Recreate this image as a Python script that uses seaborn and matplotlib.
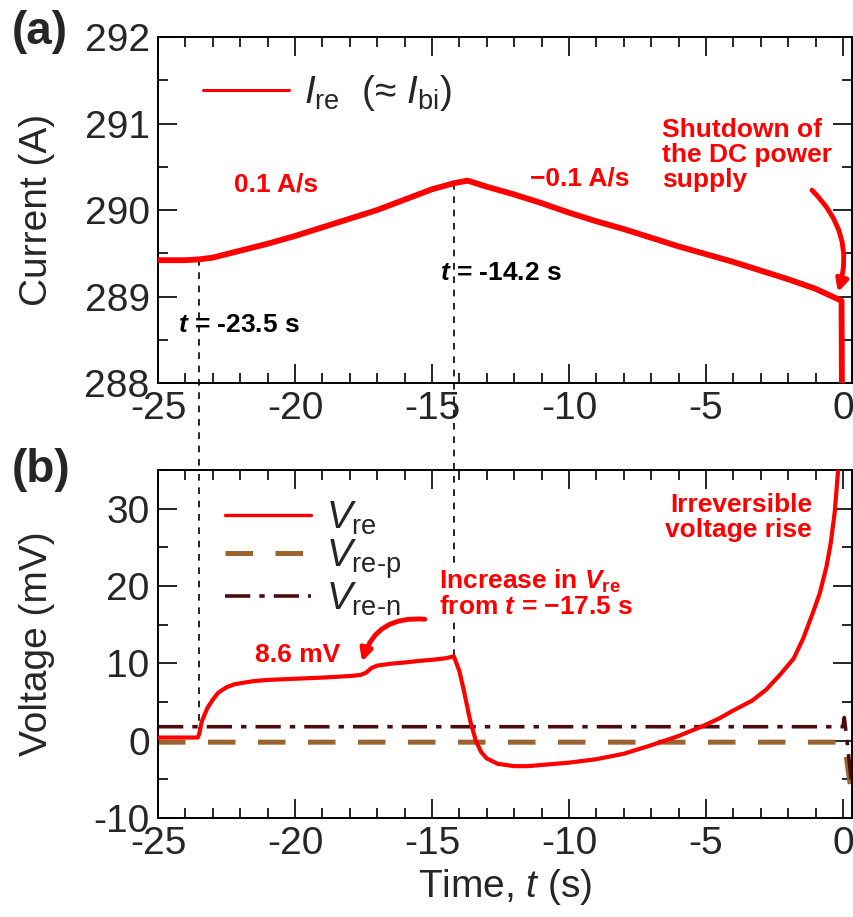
import matplotlib
matplotlib.use('Agg')
import matplotlib.pyplot as plt
import numpy as np
import pandas as pd
import seaborn as sns
from matplotlib.ticker import MultipleLocator

# (a) current
t_cur = [-25, -24.0, -23.5, -23.0, -22.5, -22, -21, -20, -19, -18, -17, -16, -15, -14.2, -13.7,
         -13, -12, -11, -10, -9, -8, -7, -6, -5, -4, -3, -2, -1, -0.25, -0.05, -0.03]
i_re = [289.42, 289.42, 289.43, 289.45, 289.49, 289.53, 289.61, 289.70, 289.80, 289.90, 290.00,
        290.12, 290.24, 290.31, 290.34, 290.27, 290.18, 290.08, 289.97, 289.87, 289.78,
        289.68, 289.58, 289.49, 289.40, 289.30, 289.20, 289.09, 288.98, 288.95, 287.5]

# (b) voltages
t_v = [-25, -23.55, -23.5, -23.4, -23.2, -23.0, -22.8, -22.5, -22.2, -21.5, -21, -20, -19,
       -18, -17.6, -17.4, -17.2, -17.0, -16.5, -16, -15.5, -15, -14.5, -14.2, -14.0, -13.85,
       -13.6, -13.4, -13.2, -13.0, -12.6, -12.0, -11.5, -11, -10, -9, -8, -7, -6, -5.1, -4.5,
       -4, -3.3, -2.8, -2.3, -1.8, -1.45, -1.1, -0.85, -0.6, -0.45, -0.3, -0.18, -0.1]
v_re = [0.4, 0.4, 0.8, 2.5, 4.2, 5.3, 6.2, 6.9, 7.3, 7.7, 7.85, 8.0, 8.15, 8.35, 8.5, 8.8,
        9.4, 9.7, 9.95, 10.1, 10.3, 10.45, 10.65, 10.9, 9.0, 6.7, 2.5, 0.0, -1.5, -2.3, -3.0,
        -3.3, -3.3, -3.15, -2.85, -2.4, -1.7, -0.6, 0.6, 1.9, 2.9, 3.9, 5.2, 6.6, 8.5, 10.6,
        13.2, 16.5, 19.0, 22.5, 25.4, 29.5, 34.8, 37.0]
t_p = [-25, 0.0, 0.1, 0.2, 0.3]
v_re_p = [-0.2, -0.2, -1.5, -4.0, -6.5]
t_n = [-25, 0.0, 0.05, 0.15, 0.3]
v_re_n = [1.8, 1.8, 3.0, 0.0, -5.0]

event_t = [-23.5, -14.2]

sns.set_style('ticks')
plt.rcParams['font.family'] = ['Liberation Sans', 'DejaVu Sans']
plt.rcParams['mathtext.fontset'] = 'custom'
plt.rcParams['mathtext.rm'] = 'Liberation Sans'
plt.rcParams['mathtext.it'] = 'Liberation Sans:italic'
plt.rcParams['mathtext.bf'] = 'Liberation Sans:bold'
plt.rcParams['mathtext.bfit'] = 'Liberation Sans:italic:bold'
plt.rcParams['axes.unicode_minus'] = False

RED = '#ff0000'
FS = 28
AFS = 19

fig = plt.figure(figsize=(8.54, 9.17), dpi=100)
ax1 = fig.add_axes([0.185, 0.5823, 0.8126, 0.3773])
ax2 = fig.add_axes([0.185, 0.108, 0.8126, 0.3795])

df_i = pd.DataFrame({'t': t_cur, 'I': i_re})
sns.lineplot(data=df_i, x='t', y='I', ax=ax1, color=RED, lw=4.2, sort=False,
             estimator=None, label=r'$I_{\rm re}$  (≈ $I_{\rm bi}$)', zorder=3)

df_v = pd.DataFrame({'t': t_v, 'V': v_re})
df_p = pd.DataFrame({'t': t_p, 'V': v_re_p})
df_n = pd.DataFrame({'t': t_n, 'V': v_re_n})
sns.lineplot(data=df_v, x='t', y='V', ax=ax2, color=RED, lw=3.0, sort=False,
             estimator=None, label=r'$V_{\rm re}$', zorder=3)
sns.lineplot(data=df_p, x='t', y='V', ax=ax2, color='#9a6330', lw=3.6, sort=False,
             estimator=None, label=r'$V_{\rm re\text{-}p}$', linestyle=(0, (5.5, 4.5)),
             zorder=2)
sns.lineplot(data=df_n, x='t', y='V', ax=ax2, color='#4d0c0c', lw=2.6, sort=False,
             estimator=None, label=r'$V_{\rm re\text{-}n}$', linestyle=(0, (7, 2.5, 1.5, 2.5)),
             zorder=2)

for ax in (ax1, ax2):
    ax.set_xlim(-25, 0.33)
    ax.xaxis.set_major_locator(MultipleLocator(5))
    ax.xaxis.set_minor_locator(MultipleLocator(1))
    ax.tick_params(which='both', direction='in', top=True, right=True, width=1.4,
                   labelsize=FS)
    ax.tick_params(which='major', length=14, pad=6)
    ax.tick_params(which='minor', length=7)
    for s in ax.spines.values():
        s.set_linewidth(1.4)
        s.set_color('black')

ax1.set_ylim(288, 292)
ax1.yaxis.set_major_locator(MultipleLocator(1))
ax1.yaxis.set_minor_locator(MultipleLocator(0.5))
ax2.set_ylim(-10, 35)
ax2.yaxis.set_major_locator(MultipleLocator(10))
ax2.yaxis.set_minor_locator(MultipleLocator(5))

ax1.set_xlabel('')
ax1.set_ylabel('Current (A)', fontsize=FS)
ax1.yaxis.set_label_coords(-0.148, 0.5)
ax2.set_ylabel('Voltage (mV)', fontsize=FS)
ax2.yaxis.set_label_coords(-0.148, 0.5)
ax2.set_xlabel(r'Time, $\mathit{t}$ (s)', fontsize=FS)
ax2.xaxis.set_label_coords(0.5, -0.14)

leg1 = ax1.legend(loc='upper left', bbox_to_anchor=(0.065, 0.895), frameon=False, fontsize=FS,
                  handlelength=2.2, handletextpad=0.4, borderpad=0, borderaxespad=0)
leg1.get_lines()[0].set_linewidth(2.2)
leg2 = ax2.legend(loc='upper left', bbox_to_anchor=(0.097, 0.915), frameon=False, fontsize=FS,
                  handlelength=2.2, handletextpad=0.4, borderpad=0, borderaxespad=0,
                  labelspacing=0.0)
leg2.get_lines()[0].set_linewidth(2.4)

# dashed guides at the two events, running across the gap between panels
for te in event_t:
    i_at = np.interp(te, t_cur, i_re)
    v_at = np.interp(te, t_v, v_re)
    ax1.plot([te, te], [i_at, 286.99], color='black', lw=1.2, ls=(0, (4, 4)),
             clip_on=False, zorder=1)
    ax2.plot([te, te], [v_at, 35], color='black', lw=1.2, ls=(0, (4, 4)),
             clip_on=False, zorder=1)

bold = dict(fontsize=AFS, fontweight='bold')
ax1.text(-20.7, 290.29, '0.1 A/s', color=RED, ha='center', va='center', **bold)
ax1.text(-9.6, 290.37, '−0.1 A/s', color=RED, ha='center', va='center', **bold)
ax1.text(-6.6, 291.06, 'Shutdown of\nthe DC power\nsupply', color=RED, ha='left',
         va='top', linespacing=1.05, **bold)
ax1.annotate('', xy=(-0.18, 289.05), xytext=(-1.13, 290.23),
             arrowprops=dict(arrowstyle='-|>,head_length=0.7,head_width=0.35', color=RED,
                             lw=3.5, connectionstyle='arc3,rad=-0.3', shrinkA=0, shrinkB=0))
ax1.text(-24.27, 288.67, r'$\mathbfit{t}$ = -23.5 s', color='black', ha='left',
         va='center', **bold)
ax1.text(-14.7, 289.27, r'$\mathbfit{t}$ = -14.2 s', color='black', ha='left',
         va='center', **bold)

ax2.text(-19.9, 11.1, '8.6 mV', color=RED, ha='center', va='center', **bold)
ax2.text(-14.75, 22.3, 'Increase in $\\mathbfit{V}_{\\mathbf{re}}$\nfrom $\\mathbfit{t}$ = −17.5 s',
         color=RED, ha='left', va='top', linespacing=1.0, zorder=4,
         bbox=dict(fc='white', ec='none', pad=1), **bold)
ax2.annotate('', xy=(-17.55, 10.2), xytext=(-15.26, 15.7),
             arrowprops=dict(arrowstyle='-|>,head_length=0.7,head_width=0.35', color=RED,
                             lw=3.5, connectionstyle='arc3,rad=0.4', shrinkA=0, shrinkB=0))
ax2.text(-1.13, 32.0, 'Irreversible\nvoltage rise', color=RED, ha='right', va='top',
         multialignment='right', linespacing=1.05, **bold)

fig.text(0.014, 0.965, '(a)', fontsize=33, fontweight='bold', ha='left', va='center')
fig.text(0.014, 0.488, '(b)', fontsize=33, fontweight='bold', ha='left', va='center')

fig.savefig('out.png', dpi=100)
